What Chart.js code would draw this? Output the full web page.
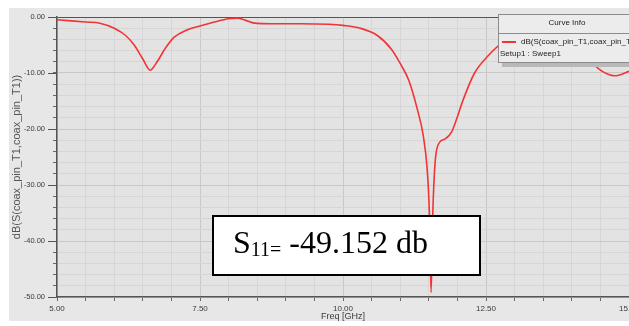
<!DOCTYPE html>
<html>
<head>
<meta charset="utf-8">
<script src="https://cdn.jsdelivr.net/npm/chart.js@4.4.1/dist/chart.umd.min.js"></script>
<style>
  html, body { margin: 0; padding: 0; background: #fff; overflow: hidden; }
  #wrap { width: 629px; height: 326px; position: relative; }
</style>
</head>
<body>
<div id="wrap"><canvas id="s11Chart"></canvas></div>
<script>
// S11 of the coax-fed antenna
const freqGHz = [5.0, 5.5, 5.75, 6.0, 6.2, 6.35, 6.5, 6.63, 6.75, 6.9, 7.05, 7.25, 7.5, 7.75,
  8.0, 8.15, 8.3, 8.45, 8.75, 9.25, 9.75, 10.0, 10.3, 10.6, 10.85, 11.0, 11.15, 11.3, 11.4,
  11.47, 11.51, 11.54, 11.57, 11.61, 11.68, 11.78, 11.9, 11.98, 12.1, 12.3, 12.55, 12.8,
  13.0, 13.5, 13.9, 14.2, 14.5, 14.75, 15.0];
const s11dB = [-0.5, -0.9, -1.1, -2.0, -3.3, -5.0, -7.5, -9.5, -8.0, -5.5, -3.6, -2.4, -1.6, -0.9,
  -0.3, -0.2, -0.6, -1.1, -1.2, -1.2, -1.3, -1.5, -2.0, -3.3, -5.8, -8.3, -11.3, -16.5, -21.0,
  -27.0, -35.0, -49.2, -35.0, -26.0, -22.5, -21.8, -20.5, -18.4, -14.8, -10.0, -6.8, -4.5,
  -3.5, -3.0, -4.0, -6.5, -9.5, -10.5, -9.7];

const xTickLabels = [5, 7.5, 10, 12.5, 15];
const yTickLabels = [0, -10, -20, -30, -40, -50];

const seriesName = "dB(S(coax_pin_T1,coax_pin_T1))";
const setupName = "Setup1 : Sweep1";
const legendTitle = "Curve Info";
const xTitle = "Freq [GHz]";
const minLabel = "-49.152 db";

const sans = "'Liberation Sans', Arial, sans-serif";

Chart.defaults.font.family = sans;
Chart.defaults.font.size = 8;
Chart.defaults.color = "#3a3a3a";

const points = freqGHz.map((f, i) => ({ x: f, y: s11dB[i] }));

// grey panel + plot background
const panelBg = {
  id: "panelBg",
  beforeDraw(chart) {
    const { ctx, chartArea: a } = chart;
    ctx.save();
    ctx.fillStyle = "#ffffff";
    ctx.fillRect(0, 0, chart.width, chart.height);
    ctx.fillStyle = "#e7e7e7";
    ctx.fillRect(9, 8, chart.width - 9, 313);
    ctx.fillStyle = "#e3e3e3";
    ctx.fillRect(a.left, a.top, a.right - a.left, a.bottom - a.top);
    ctx.restore();
  }
};

// longer ticks on the labelled y values
const majorTicks = {
  id: "majorTicks",
  afterDraw(chart) {
    const { ctx } = chart;
    const y = chart.scales.y;
    ctx.save();
    ctx.strokeStyle = "#555";
    ctx.lineWidth = 1;
    yTickLabels.forEach(v => {
      const py = Math.round(y.getPixelForValue(v)) + 0.5;
      ctx.beginPath();
      ctx.moveTo(y.right - 9, py);
      ctx.lineTo(y.right, py);
      ctx.stroke();
    });
    ctx.restore();
  }
};

// "Curve Info" box in the top right corner
const curveInfo = {
  id: "curveInfo",
  afterDraw(chart) {
    const { ctx } = chart;
    const bx = 498, by = 14, bw = 140, bh = 48;
    ctx.save();
    ctx.fillStyle = "#b9b9b9";
    ctx.fillRect(bx + 4, by + bh, bw, 5);
    ctx.fillStyle = "#ececec";
    ctx.fillRect(bx, by, bw, bh);
    ctx.strokeStyle = "#8c8c8c";
    ctx.lineWidth = 1;
    ctx.strokeRect(bx + 0.5, by + 0.5, bw, bh);
    ctx.beginPath();
    ctx.moveTo(bx, by + 19.5);
    ctx.lineTo(bx + bw, by + 19.5);
    ctx.stroke();

    ctx.fillStyle = "#222";
    ctx.font = "8px " + sans;
    ctx.textBaseline = "middle";
    ctx.textAlign = "center";
    ctx.fillText(legendTitle, 567, by + 9);
    ctx.textAlign = "left";
    ctx.strokeStyle = chart.data.datasets[0].borderColor;
    ctx.lineWidth = 2;
    ctx.beginPath();
    ctx.moveTo(502, 42);
    ctx.lineTo(516, 42);
    ctx.stroke();
    ctx.fillText(seriesName, 521, 42);
    ctx.fillText(setupName, 500, 54);
    ctx.restore();
  }
};

// the white S11 label box
const s11Box = {
  id: "s11Box",
  afterDraw(chart) {
    const { ctx } = chart;
    const bx = 212, by = 215, bw = 269, bh = 61;
    ctx.save();
    ctx.fillStyle = "#fff";
    ctx.fillRect(bx, by, bw, bh);
    ctx.strokeStyle = "#000";
    ctx.lineWidth = 2;
    ctx.strokeRect(bx + 1, by + 1, bw - 2, bh - 2);

    ctx.fillStyle = "#000";
    ctx.textBaseline = "alphabetic";
    ctx.textAlign = "left";
    let x = 233;
    ctx.font = "32px 'Liberation Serif', 'Times New Roman', serif";
    ctx.fillText("S", x, 253);
    x += ctx.measureText("S").width;
    ctx.font = "20px 'Liberation Serif', 'Times New Roman', serif";
    ctx.fillText("11=", x, 256);
    x += ctx.measureText("11=").width;
    ctx.font = "32px 'Liberation Serif', 'Times New Roman', serif";
    ctx.fillText(" " + minLabel, x, 253);
    ctx.restore();
  }
};

new Chart(document.getElementById("s11Chart"), {
  type: "line",
  data: {
    datasets: [{
      label: seriesName,
      data: points,
      borderColor: "#f23434",
      borderWidth: 1.6,
      pointRadius: 0,
      cubicInterpolationMode: "monotone",
      fill: false
    }]
  },
  options: {
    responsive: true,
    maintainAspectRatio: false,
    animation: false,
    devicePixelRatio: 1,
    layout: { padding: { left: 9, top: 17, right: 0, bottom: 0 } },
    plugins: {
      legend: { display: false },
      tooltip: { enabled: false }
    },
    scales: {
      x: {
        type: "linear",
        min: 5,
        max: 15,
        afterFit(s) { s.height = 29; s.paddingLeft = 0; s.paddingRight = 0; },
        ticks: {
          stepSize: 0.5,
          autoSkip: false,
          maxRotation: 0,
          padding: 3,
          callback: v => xTickLabels.includes(v) ? v.toFixed(2) : ""
        },
        grid: {
          color: c => xTickLabels.includes(c.tick && c.tick.value) ? "#c8c8c8" : "#d6d6d6",
          tickColor: "#666",
          tickLength: 4
        },
        border: { color: "#555", width: 1.5 },
        title: {
          display: true,
          text: xTitle,
          font: { size: 9 },
          padding: { top: 0, bottom: 4 }
        }
      },
      y: {
        min: -50,
        max: 0,
        afterFit(s) { s.width = 48; s.paddingTop = 0; s.paddingBottom = 0; },
        ticks: {
          stepSize: 2,
          autoSkip: false,
          padding: 8,
          font: { size: 7.5 },
          callback: v => v % 10 === 0 ? v.toFixed(2) : ""
        },
        grid: {
          color: c => {
            const v = c.tick && c.tick.value;
            if (v === 0) return "#555";
            return yTickLabels.includes(v) ? "#c8c8c8" : "#d6d6d6";
          },
          tickColor: "#666",
          tickLength: 4
        },
        border: { color: "#555", width: 1.5 },
        title: {
          display: true,
          text: seriesName,
          font: { family: sans, size: 11 },
          color: "#555",
          padding: { top: 1, bottom: 0 }
        }
      }
    }
  },
  plugins: [panelBg, majorTicks, curveInfo, s11Box]
});
</script>
</body>
</html>
